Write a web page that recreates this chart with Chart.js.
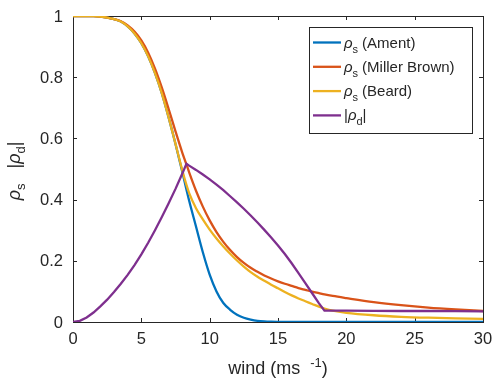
<!DOCTYPE html>
<html>
<head>
<meta charset="utf-8">
<script src="https://cdn.jsdelivr.net/npm/chart.js@4/dist/chart.umd.min.js"></script>
<style>
  html, body { margin: 0; padding: 0; background: #ffffff; }
  #wrap { width: 492px; height: 381px; position: relative; }
</style>
</head>
<body>
<div id="wrap"><canvas id="c" width="492" height="381"></canvas></div>
<script>
// ---- data ----
const windSpeeds = [0, 0.5, 1, 1.5, 2, 2.5, 3, 3.5, 4, 4.5, 5, 5.5, 6, 6.5, 7, 7.5, 8, 8.3, 8.5, 9, 9.5, 10, 10.5, 11, 11.5, 12, 12.5, 13, 13.5, 14, 14.5, 15, 15.5, 16, 16.5, 17, 17.5, 18, 18.4, 19, 20, 22, 24, 26, 28, 30];
const ament       = [1, 1, 1, 0.9995, 0.998, 0.995, 0.990, 0.982, 0.966, 0.943, 0.911, 0.868, 0.813, 0.747, 0.668, 0.582, 0.490, 0.433, 0.396, 0.312, 0.228, 0.155, 0.100, 0.062, 0.040, 0.024, 0.014, 0.008, 0.004, 0.002, 0.001, 0.0005, 0.0002, 0, 0, 0, 0, 0, 0, 0, 0, 0, 0, 0, 0, 0];
const millerBrown = [1, 1, 1, 0.9995, 0.998, 0.995, 0.990, 0.983, 0.969, 0.949, 0.920, 0.880, 0.828, 0.766, 0.696, 0.623, 0.553, 0.515, 0.489, 0.429, 0.377, 0.332, 0.294, 0.262, 0.235, 0.212, 0.193, 0.177, 0.164, 0.152, 0.142, 0.133, 0.125, 0.118, 0.111, 0.105, 0.099, 0.094, 0.090, 0.085, 0.078, 0.065, 0.055, 0.047, 0.041, 0.036];
const beard       = [1, 1, 1, 0.9995, 0.998, 0.995, 0.990, 0.982, 0.966, 0.943, 0.911, 0.868, 0.813, 0.747, 0.668, 0.582, 0.495, 0.448, 0.421, 0.372, 0.335, 0.302, 0.273, 0.247, 0.223, 0.201, 0.181, 0.163, 0.148, 0.135, 0.122, 0.110, 0.098, 0.087, 0.077, 0.068, 0.059, 0.050, 0.044, 0.037, 0.030, 0.022, 0.017, 0.014, 0.012, 0.010];
const rhoD        = [0, 0.004, 0.015, 0.031, 0.051, 0.073, 0.098, 0.125, 0.154, 0.186, 0.221, 0.259, 0.300, 0.343, 0.388, 0.435, 0.485, 0.517, 0.511, 0.497, 0.482, 0.466, 0.449, 0.431, 0.411, 0.391, 0.370, 0.348, 0.325, 0.301, 0.276, 0.250, 0.222, 0.192, 0.160, 0.127, 0.094, 0.061, 0.037, 0.037, 0.037, 0.0365, 0.036, 0.036, 0.0355, 0.035];
const xTickLabels = ['0', '5', '10', '15', '20', '25', '30'];
const yTickLabels = ['0', '0.2', '0.4', '0.6', '0.8', '1'];
const seriesNames = ['(Ament)', '(Miller Brown)', '(Beard)', ''];
const seriesColors = ['#0072BD', '#D95319', '#EDB120', '#7E2F8E'];

const AX = '#262626';
const FONT = '"Liberation Sans", Arial, Helvetica, sans-serif';

function pts(arr) { return windSpeeds.map((x, i) => ({ x: x, y: arr[i] })); }

function richWidth(ctx, pieces) {
  let w = 0;
  for (const p of pieces) { ctx.font = p.font; w += ctx.measureText(p.t).width + (p.gap || 0); }
  return w;
}
function drawRich(ctx, pieces, x, y, align) {
  let w = richWidth(ctx, pieces);
  let cx = align === 'center' ? x - w / 2 : x;
  ctx.textBaseline = 'alphabetic';
  ctx.textAlign = 'left';
  for (const p of pieces) {
    ctx.font = p.font;
    ctx.fillText(p.t, cx, y + (p.dy || 0));
    cx += ctx.measureText(p.t).width + (p.gap || 0);
  }
}

const decor = {
  id: 'decor',
  beforeDatasetsDraw(chart) {
    const ctx = chart.ctx, a = chart.chartArea;
    const xs = chart.scales.x, ys = chart.scales.y;
    ctx.save();
    ctx.strokeStyle = AX;
    ctx.lineWidth = 1;
    ctx.strokeRect(Math.round(a.left) + 0.5, Math.round(a.top) + 0.5, Math.round(a.right - a.left), Math.round(a.bottom - a.top));
    const tl = 4;
    ctx.beginPath();
    xs.ticks.forEach(t => {
      const px = Math.round(xs.getPixelForValue(t.value)) + 0.5;
      ctx.moveTo(px, a.bottom); ctx.lineTo(px, a.bottom - tl);
      ctx.moveTo(px, a.top); ctx.lineTo(px, a.top + tl);
    });
    ys.ticks.forEach(t => {
      const py = Math.round(ys.getPixelForValue(t.value)) + 0.5;
      ctx.moveTo(a.left, py); ctx.lineTo(a.left + tl, py);
      ctx.moveTo(a.right, py); ctx.lineTo(a.right - tl, py);
    });
    ctx.stroke();

    // tick labels
    ctx.fillStyle = AX;
    ctx.font = '16.5px ' + FONT;
    ctx.textAlign = 'center';
    ctx.textBaseline = 'alphabetic';
    xs.ticks.forEach((t, i) => {
      ctx.fillText(xTickLabels[i], xs.getPixelForValue(t.value), 344);
    });
    ctx.textAlign = 'right';
    ctx.textBaseline = 'middle';
    ys.ticks.forEach((t, i) => {
      ctx.fillText(yTickLabels[i], 63, ys.getPixelForValue(t.value) + 1);
    });

    // axis titles
    const big = '18px ' + FONT, sub = '13px ' + FONT, it = 'italic 18px ' + FONT;
    drawRich(ctx, [
      { t: 'wind (ms', font: big, gap: 10 },
      { t: '-1', font: sub, dy: -7 },
      { t: ')', font: big }
    ], (a.left + a.right) / 2, 374, 'center');

    ctx.save();
    ctx.translate(20, (a.top + a.bottom) / 2 + 2);
    ctx.rotate(-Math.PI / 2);
    drawRich(ctx, [
      { t: '\u03C1', font: it },
      { t: 's', font: sub, dy: 5 },
      { t: '   |', font: big },
      { t: '\u03C1', font: it },
      { t: 'd', font: sub, dy: 5 },
      { t: '|', font: big }
    ], 0, 0, 'center');
    ctx.restore();
    ctx.restore();
  },
  afterDatasetsDraw(chart) {
    const ctx = chart.ctx;
    ctx.save();
    const bx = 309.5, by = 27.5, bw = 163, bh = 106;
    ctx.fillStyle = '#ffffff';
    ctx.fillRect(bx, by, bw, bh);
    ctx.strokeStyle = AX;
    ctx.lineWidth = 1;
    ctx.strokeRect(bx, by, bw, bh);
    const rows = [42.5, 66.8, 91.1, 115.4];
    const lf = '15px ' + FONT, li = 'italic 15px ' + FONT, ls = '11px ' + FONT;
    rows.forEach((ry, i) => {
      ctx.strokeStyle = seriesColors[i];
      ctx.lineWidth = 2.3;
      ctx.beginPath(); ctx.moveTo(313, ry); ctx.lineTo(341, ry); ctx.stroke();
      ctx.fillStyle = AX;
      let pieces;
      if (i < 3) {
        pieces = [
          { t: '\u03C1', font: li },
          { t: 's', font: ls, dy: 5, gap: 4 },
          { t: seriesNames[i], font: lf }
        ];
      } else {
        pieces = [
          { t: '|', font: lf },
          { t: '\u03C1', font: li },
          { t: 'd', font: ls, dy: 5 },
          { t: '|', font: lf }
        ];
      }
      drawRich(ctx, pieces, 344, ry + 5, 'left');
    });
    ctx.restore();
  }
};

function mk(label, arr, i, order, linear) {
  return {
    label: label,
    data: pts(arr),
    borderColor: seriesColors[i],
    backgroundColor: seriesColors[i],
    borderWidth: 2.3,
    pointRadius: 0,
    fill: false,
    order: order,
    cubicInterpolationMode: linear ? 'default' : 'monotone',
    tension: 0
  };
}

new Chart(document.getElementById('c'), {
  type: 'line',
  data: {
    datasets: [
      mk('Ament', ament, 0, 3, false),
      mk('Miller Brown', millerBrown, 1, 2, false),
      mk('Beard', beard, 2, 1, false),
      mk('rho_d', rhoD, 3, 0, true)
    ]
  },
  options: {
    responsive: false,
    animation: false,
    layout: { padding: { left: 0, top: 16, right: 9, bottom: 0 } },
    plugins: { legend: { display: false }, tooltip: { enabled: false }, title: { display: false } },
    scales: {
      x: {
        type: 'linear', min: 0, max: 30,
        afterFit: s => { s.height = 59; },
        grid: { display: false, drawTicks: false },
        border: { display: false },
        ticks: { stepSize: 5, autoSkip: false, display: false }
      },
      y: {
        type: 'linear', min: 0, max: 1,
        afterFit: s => { s.width = 73; },
        grid: { display: false, drawTicks: false },
        border: { display: false },
        ticks: { stepSize: 0.2, autoSkip: false, display: false }
      }
    }
  },
  plugins: [decor]
});
</script>
</body>
</html>
